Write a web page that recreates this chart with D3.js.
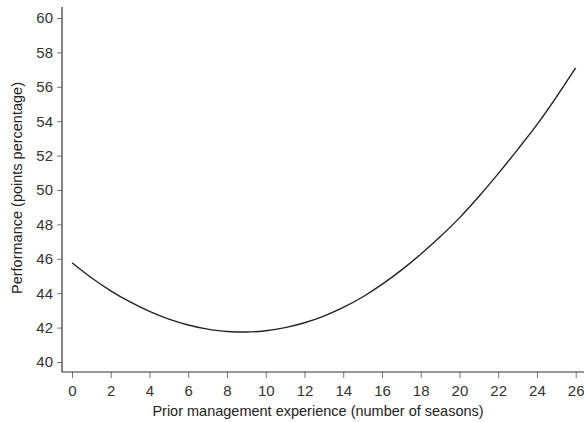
<!DOCTYPE html>
<html>
<head>
<meta charset="utf-8">
<script src="https://cdn.jsdelivr.net/npm/d3@7"></script>
<style>
  body { margin: 0; background: #fff; }
  text { font-family: "Liberation Sans", Arial, sans-serif; }
</style>
</head>
<body>
<div id="container"></div>
<script>
// seasons of prior management experience
const seasons = d3.range(0, 27);
// estimated performance (points percentage) at each season
const performance = [
  45.77, 44.90, 44.14, 43.49, 42.94, 42.49, 42.15, 41.91, 41.77, 41.74,
  41.82, 42.00, 42.28, 42.67, 43.17, 43.78, 44.51, 45.34, 46.27, 47.28,
  48.38, 49.62, 50.95, 52.35, 53.80, 55.40, 57.10
];
const xTicks = d3.range(0, 27, 2);
const yTicks = d3.range(40, 61, 2);

const width = 584, height = 422;

const svg = d3.select("#container")
  .append("svg")
  .attr("width", width)
  .attr("height", height);

const x = d3.scaleLinear().domain([0, 26]).range([72, 575.7]);
const y = d3.scaleLinear().domain([40, 60]).range([362, 18]);

const axisX = 62, axisY = 372;

// y axis
const yAxis = svg.append("g")
  .attr("transform", "translate(" + axisX + ",0)")
  .call(d3.axisLeft(y).tickValues(yTicks).tickSize(5).tickPadding(4));
yAxis.select(".domain").remove();
yAxis.selectAll(".tick line").attr("stroke", "#777");
yAxis.selectAll(".tick text").attr("font-size", 15).attr("fill", "#333");
svg.append("line")
  .attr("x1", axisX).attr("x2", axisX)
  .attr("y1", 7).attr("y2", axisY)
  .attr("stroke", "#333").attr("stroke-width", 1.2);

// x axis
const xAxis = svg.append("g")
  .attr("transform", "translate(0," + axisY + ")")
  .call(d3.axisBottom(x).tickValues(xTicks).tickSize(6).tickPadding(7));
xAxis.select(".domain").remove();
xAxis.selectAll(".tick line").attr("stroke", "#777");
xAxis.selectAll(".tick text").attr("font-size", 15).attr("fill", "#333");
svg.append("line")
  .attr("x1", axisX).attr("x2", width)
  .attr("y1", axisY).attr("y2", axisY)
  .attr("stroke", "#333").attr("stroke-width", 1.2);

// axis titles
svg.append("text")
  .attr("x", 318).attr("y", 416)
  .attr("text-anchor", "middle")
  .attr("font-size", 14.5)
  .attr("fill", "#222")
  .text("Prior management experience (number of seasons)");

svg.append("text")
  .attr("transform", "translate(22,188) rotate(-90)")
  .attr("text-anchor", "middle")
  .attr("font-size", 14.5)
  .attr("fill", "#222")
  .text("Performance (points percentage)");

// curve
svg.append("path")
  .datum(seasons.map((s, i) => [s, performance[i]]))
  .attr("fill", "none")
  .attr("stroke", "#222")
  .attr("stroke-width", 1.4)
  .attr("d", d3.line()
    .x(d => x(d[0]))
    .y(d => y(d[1]))
    .curve(d3.curveMonotoneX));
</script>
</body>
</html>
